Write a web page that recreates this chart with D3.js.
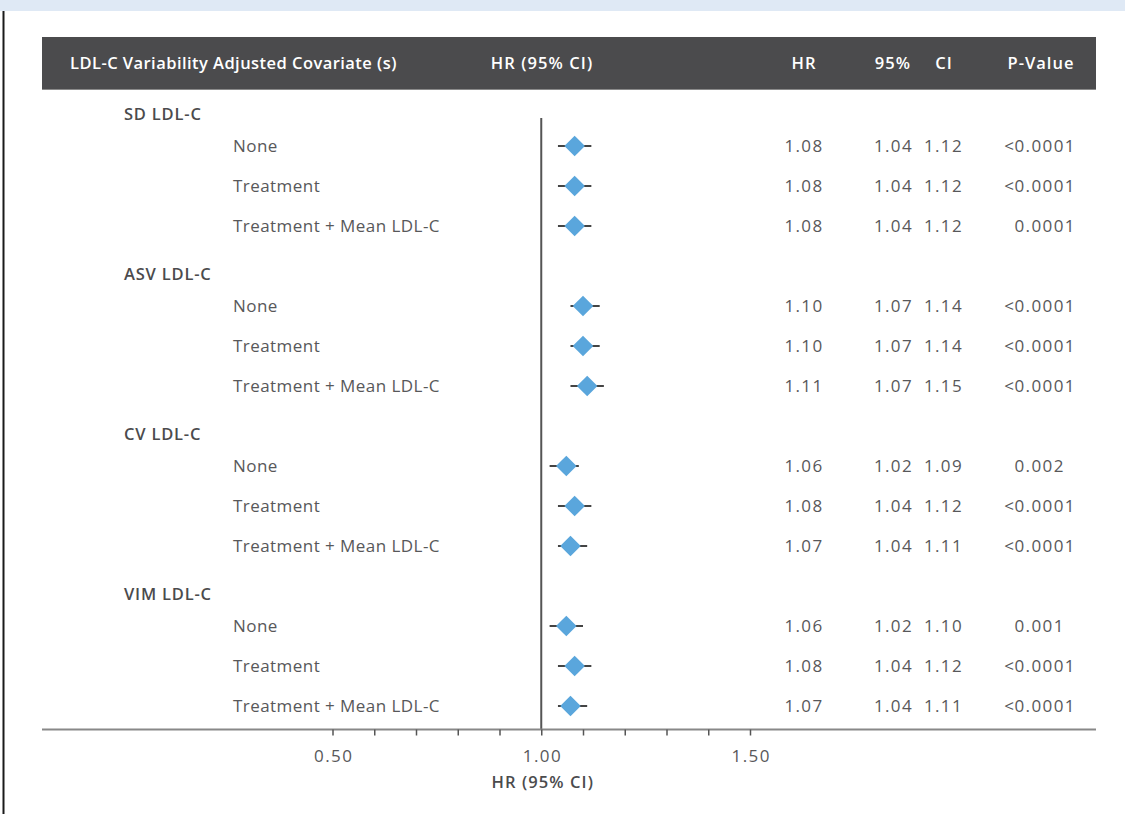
<!DOCTYPE html>
<html>
<head>
<meta charset="utf-8">
<script src="https://cdn.jsdelivr.net/npm/d3@7"></script>
<style>
  html, body { margin: 0; padding: 0; background: #fff; }
  svg { display: block; font-family: "Open Sans", "Noto Sans", sans-serif; }
</style>
</head>
<body>
<svg id="chart" width="1125" height="814"></svg>
<script>
// Forest plot: LDL-C variability metrics, hazard ratios by adjustment set
const groups = ["SD LDL-C", "ASV LDL-C", "CV LDL-C", "VIM LDL-C"];
const covariates = ["None", "Treatment", "Treatment + Mean LDL-C"];
const hr    = [[1.08, 1.08, 1.08], [1.10, 1.10, 1.11], [1.06, 1.08, 1.07], [1.06, 1.08, 1.07]];
const ciLow = [[1.04, 1.04, 1.04], [1.07, 1.07, 1.07], [1.02, 1.04, 1.04], [1.02, 1.04, 1.04]];
const ciHigh= [[1.12, 1.12, 1.12], [1.14, 1.14, 1.15], [1.09, 1.12, 1.11], [1.10, 1.12, 1.11]];
const pValues = [["<0.0001", "<0.0001", "0.0001"], ["<0.0001", "<0.0001", "<0.0001"],
                 ["0.002", "<0.0001", "<0.0001"], ["0.001", "<0.0001", "<0.0001"]];
const tickValues = [0.5, 0.6, 0.7, 0.8, 0.9, 1.0, 1.1, 1.2, 1.3, 1.4, 1.5];
const labelledTicks = [0.5, 1.0, 1.5];
const headerLabels = ["LDL-C Variability Adjusted Covariate (s)", "HR (95% CI)", "HR", "95%", "CI", "P-Value"];
const axisTitle = "HR (95% CI)";

const svg = d3.select("#chart");
const W = 1125, H = 814;

const textDark = "#4b4b4d";
const textBody = "#58585a";
const numSpacing = 1.4;

// page frame
svg.append("rect").attr("x", 0).attr("y", 0).attr("width", W).attr("height", 11).attr("fill", "#dfe9f5");
svg.append("line").attr("x1", 3.5).attr("x2", 3.5).attr("y1", 11).attr("y2", H)
  .attr("stroke", "#1a1a1a").attr("stroke-width", 2);

// layout
const left = 42, right = 1096;
const x = d3.scaleLinear().domain([0.5, 1.5]).range([332.5, 750]);
const groupY = g => 114 + g * 160;
const rowY = (g, i) => 146 + g * 160 + 40 * i;
const axisY = 729.5;

// header bar
svg.append("rect").attr("x", left).attr("y", 37).attr("width", right - left).attr("height", 53)
  .attr("fill", "#4b4b4d");
svg.append("line").attr("x1", left).attr("x2", right).attr("y1", 89.5).attr("y2", 89.5)
  .attr("stroke", "#8a8a8a").attr("stroke-width", 1);
const headerPos = [
  {x: 70, anchor: "start", ls: 0.45},
  {x: 542, anchor: "middle", ls: 1.1},
  {x: 804, anchor: "middle", ls: 1.1},
  {x: 893, anchor: "middle", ls: 1.1},
  {x: 944, anchor: "middle", ls: 1.1},
  {x: 1041, anchor: "middle", ls: 1.0}
];
svg.append("g").selectAll("text").data(headerLabels).join("text")
  .attr("x", (d, i) => headerPos[i].x)
  .attr("y", 63)
  .attr("dy", "0.35em")
  .attr("text-anchor", (d, i) => headerPos[i].anchor)
  .attr("letter-spacing", (d, i) => headerPos[i].ls)
  .attr("fill", "#fff")
  .attr("font-size", 16.5)
  .attr("font-weight", 600)
  .text(d => d);

// reference line at HR = 1
svg.append("line").attr("x1", x(1)).attr("x2", x(1)).attr("y1", 118).attr("y2", axisY)
  .attr("stroke", "#555").attr("stroke-width", 2);

// group labels
svg.append("g").selectAll("text").data(groups).join("text")
  .attr("x", 124).attr("y", (d, g) => groupY(g)).attr("dy", "0.35em")
  .attr("fill", textDark).attr("font-size", 16.5).attr("font-weight", 600)
  .attr("letter-spacing", 0.8)
  .text(d => d);

// flatten rows
const rows = [];
groups.forEach((grp, g) => covariates.forEach((cov, i) => rows.push({
  g, i, cov, hr: hr[g][i], lo: ciLow[g][i], hi: ciHigh[g][i], p: pValues[g][i]
})));

const rowG = svg.append("g").selectAll("g").data(rows).join("g")
  .attr("transform", d => `translate(0,${rowY(d.g, d.i)})`);

rowG.append("text").attr("x", 233).attr("dy", "0.35em")
  .attr("fill", textBody).attr("font-size", 17).attr("letter-spacing", 0.45).text(d => d.cov);

// CI whiskers and diamond
rowG.append("line").attr("x1", d => x(d.lo)).attr("x2", d => x(d.hi))
  .attr("stroke", "#444").attr("stroke-width", 2);
const dr = 10.3;
rowG.append("path")
  .attr("d", d => { const cx = x(d.hr); return `M${cx},${-dr}L${cx + dr},0L${cx},${dr}L${cx - dr},0Z`; })
  .attr("fill", "#5aa6dc");

const fmt = d3.format(".2f");
const numText = (sel, xPos, anchor, fn, ls) => sel.append("text")
  .attr("x", xPos).attr("dy", "0.35em").attr("text-anchor", anchor)
  .attr("fill", textBody).attr("font-size", 17).attr("letter-spacing", ls).text(fn);
numText(rowG, 804, "middle", d => fmt(d.hr), numSpacing);
numText(rowG, 893.5, "middle", d => fmt(d.lo), numSpacing);
numText(rowG, 943.5, "middle", d => fmt(d.hi), numSpacing);
// p-values: digits left-aligned, "<" hangs into the margin
numText(rowG, 1014.5, "start", d => d.p.replace("<", ""), numSpacing);
numText(rowG.filter(d => d.p.startsWith("<")), 1014, "end", () => "<", 0);

// x axis
svg.append("line").attr("x1", left).attr("x2", right).attr("y1", axisY).attr("y2", axisY)
  .attr("stroke", "#888").attr("stroke-width", 2);
const axis = d3.axisBottom(x).tickValues(tickValues).tickSize(6).tickPadding(14)
  .tickFormat(d => labelledTicks.some(t => Math.abs(t - d) < 1e-9) ? fmt(d) : "");
const axG = svg.append("g").attr("transform", `translate(0,${axisY})`).call(axis);
axG.select(".domain").remove();
axG.selectAll(".tick line").attr("stroke", "#555").attr("stroke-width", 1.5);
axG.selectAll(".tick text").attr("fill", textBody).attr("font-size", 17)
  .attr("letter-spacing", numSpacing).attr("dx", numSpacing / 2)
  .attr("font-family", "'Open Sans', 'Noto Sans', sans-serif");

svg.append("text").attr("x", x(1) + 1.5).attr("y", 782).attr("dy", "0.35em").attr("text-anchor", "middle")
  .attr("fill", textDark).attr("font-size", 16.5).attr("font-weight", 600)
  .attr("letter-spacing", 1.1).text(axisTitle);
</script>
</body>
</html>
